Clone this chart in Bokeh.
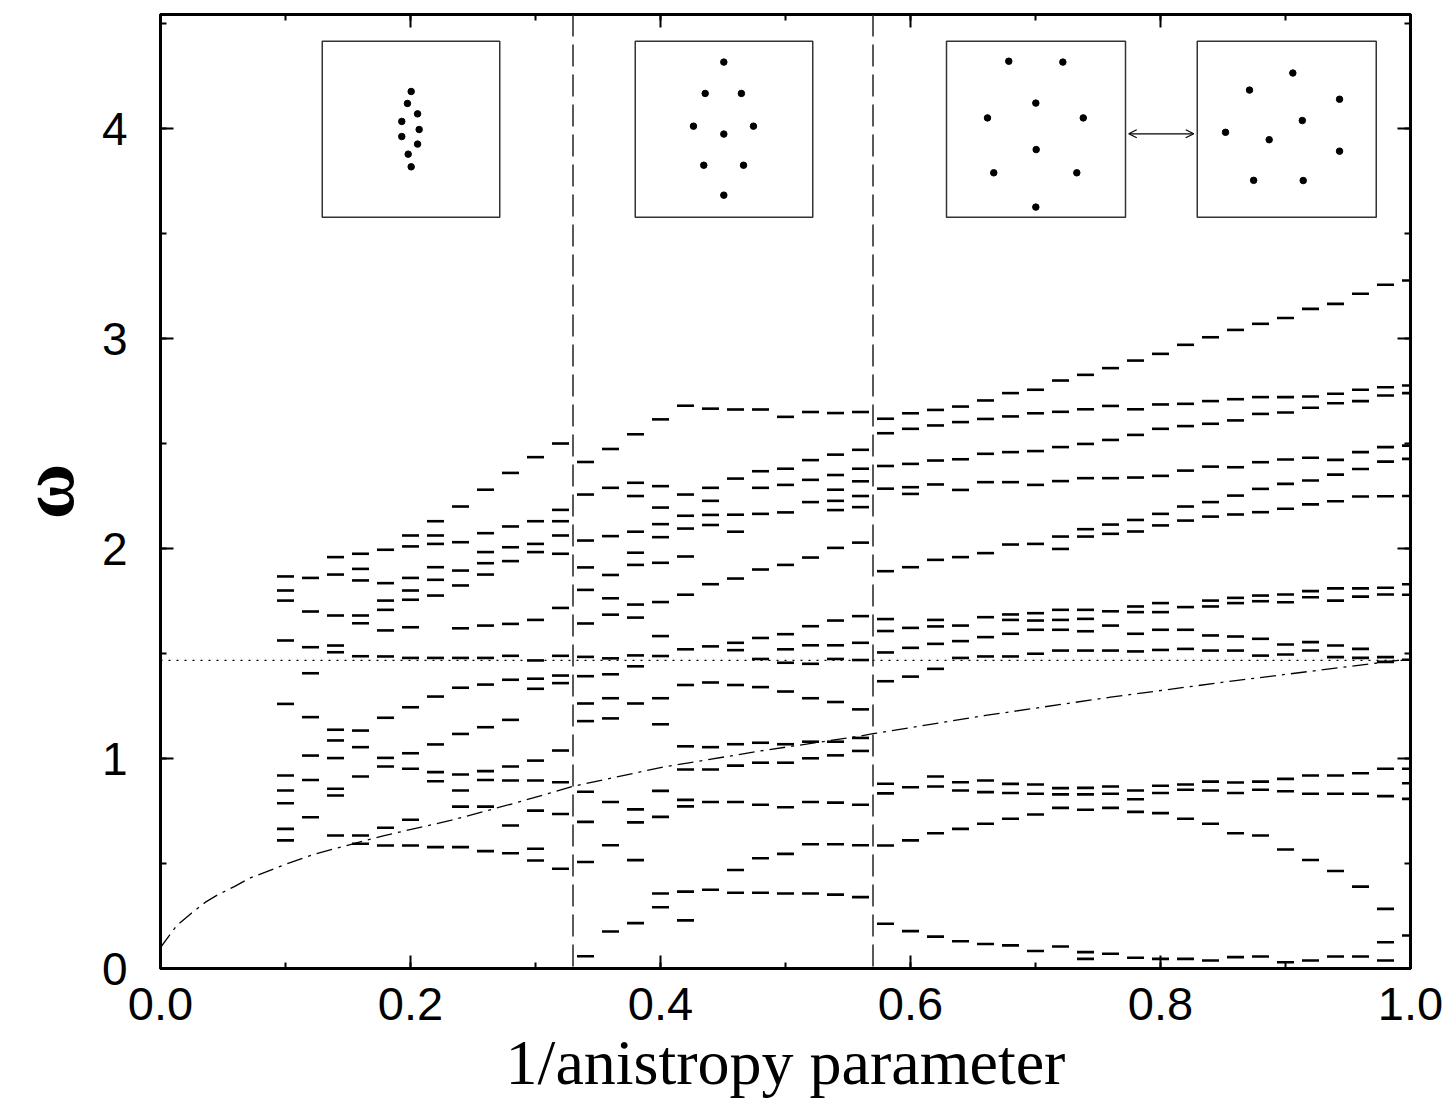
from bokeh.plotting import figure
from bokeh.models import (Range1d, LinearAxis, SingleIntervalTicker, Span, Arrow,
                          OpenHead, ColumnDataSource, NumeralTickFormatter, CustomJSTickFormatter)
from bokeh.embed import file_html
from bokeh.resources import INLINE

# ---------------- data: mode frequencies (omega) at each 1/anisotropy value ----------------
w_010 = [1.867, 1.80, 1.752, 1.562, 1.26, 0.919, 0.848, 0.787, 0.665, 0.61]
w_012 = [1.86, 1.70, 1.53, 1.406, 1.197, 1.014, 0.898, 0.72]
w_014 = [1.959, 1.876, 1.681, 1.538, 1.506, 1.137, 1.086, 1.002, 0.856, 0.824, 0.633]
w_016 = [1.975, 1.903, 1.848, 1.681, 1.644, 1.487, 1.133, 1.054, 0.914, 0.633, 0.594]
w_018 = [1.994, 1.835, 1.752, 1.708, 1.61, 1.486, 1.194, 1.003, 0.962, 0.67, 0.586]
w_020 = [2.062, 2.01, 1.86, 1.80, 1.756, 1.625, 1.479, 1.244, 1.025, 0.951, 0.708, 0.586]
w_022 = [2.13, 2.062, 2.022, 1.911, 1.851, 1.776, 1.479, 1.295, 1.067, 0.935, 0.892, 0.578]
w_024 = [2.20, 2.03, 1.895, 1.824, 1.62, 1.479, 1.337, 1.117, 0.924, 0.848, 0.771, 0.578]
w_026 = [2.28, 2.073, 1.983, 1.93, 1.876, 1.633, 1.479, 1.352, 1.149, 0.94, 0.898, 0.771, 0.559]
w_028 = [2.36, 2.105, 2.006, 1.94, 1.641, 1.489, 1.375, 1.184, 0.962, 0.895, 0.681, 0.549]
w_030 = [2.435, 2.13, 2.022, 1.983, 1.66, 1.467, 1.38, 1.332, 0.99, 0.895, 0.752, 0.57, 0.514]
w_032 = [2.50, 2.184, 2.13, 2.062, 1.975, 1.717, 1.489, 1.395, 1.359, 1.038, 0.887, 0.736, 0.475]
w_034 = [2.412, 2.257, 2.038, 1.91, 1.803, 1.643, 1.484, 1.392, 1.262, 1.178, 0.842, 0.698, 0.507, 0.058]
w_036 = [2.474, 2.289, 2.059, 1.874, 1.763, 1.685, 1.477, 1.401, 1.287, 1.191, 0.793, 0.587, 0.176]
w_038 = [2.544, 2.313, 2.25, 2.08, 1.98, 1.922, 1.733, 1.671, 1.491, 1.439, 1.262, 0.758, 0.696, 0.516, 0.216]
w_040 = [2.615, 2.297, 2.195, 2.116, 2.054, 1.932, 1.745, 1.583, 1.488, 1.287, 1.163, 0.846, 0.722, 0.357, 0.292]
w_042 = [2.68, 2.257, 2.156, 2.095, 1.962, 1.78, 1.52, 1.35, 1.058, 0.948, 0.803, 0.772, 0.366, 0.229]
w_044 = [2.666, 2.289, 2.227, 2.16, 2.112, 1.83, 1.534, 1.362, 1.054, 0.948, 0.793, 0.375]
w_046 = [2.662, 2.333, 2.161, 2.08, 1.857, 1.551, 1.516, 1.35, 1.068, 0.966, 0.793, 0.469, 0.361]
w_048 = [2.662, 2.368, 2.289, 2.165, 1.90, 1.574, 1.474, 1.34, 1.075, 0.98, 0.78, 0.525, 0.361]
w_050 = [2.627, 2.38, 2.303, 2.172, 1.922, 1.592, 1.52, 1.456, 1.319, 1.068, 0.98, 0.768, 0.546, 0.357]
w_052 = [2.65, 2.421, 2.327, 2.221, 1.957, 1.63, 1.539, 1.451, 1.287, 1.08, 1.001, 0.793, 0.592, 0.357]
w_054 = [2.645, 2.447, 2.35, 2.28, 2.227, 2.183, 2.003, 1.657, 1.539, 1.474, 1.269, 1.08, 1.015, 0.79, 0.592, 0.352]
w_056 = [2.65, 2.47, 2.38, 2.32, 2.25, 2.197, 2.028, 1.678, 1.551, 1.469, 1.234, 1.098, 1.036, 0.78, 0.587, 0.34]
w_058 = [2.618, 2.549, 2.393, 2.285, 1.892, 1.664, 1.607, 1.505, 1.368, 0.88, 0.834, 0.586, 0.213]
w_060 = [2.644, 2.57, 2.403, 2.292, 2.26, 1.911, 1.622, 1.527, 1.39, 0.863, 0.61, 0.178]
w_062 = [2.66, 2.586, 2.419, 2.305, 1.946, 1.66, 1.629, 1.546, 1.427, 0.914, 0.867, 0.644, 0.152]
w_064 = [2.676, 2.602, 2.425, 2.279, 1.959, 1.633, 1.559, 1.479, 0.887, 0.848, 0.665, 0.13]
w_066 = [2.705, 2.617, 2.451, 2.316, 1.978, 1.673, 1.578, 1.486, 0.895, 0.84, 0.689, 0.117]
w_068 = [2.74, 2.629, 2.459, 2.316, 2.019, 1.686, 1.66, 1.594, 1.486, 0.879, 0.836, 0.713, 0.11]
w_070 = [2.756, 2.644, 2.464, 2.303, 2.022, 1.692, 1.657, 1.613, 1.499, 0.876, 0.832, 0.733, 0.083]
w_072 = [2.80, 2.651, 2.483, 2.321, 2.057, 1.998, 1.708, 1.66, 1.613, 1.514, 0.859, 0.829, 0.765, 0.105]
w_074 = [2.827, 2.663, 2.498, 2.335, 2.092, 2.057, 1.708, 1.665, 1.606, 1.514, 0.86, 0.829, 0.756, 0.078, 0.046]
w_076 = [2.859, 2.679, 2.517, 2.335, 2.114, 2.07, 1.701, 1.633, 1.514, 0.867, 0.832, 0.765, 0.07]
w_078 = [2.895, 2.663, 2.541, 2.338, 2.136, 2.081, 1.724, 1.697, 1.594, 1.51, 0.848, 0.806, 0.746, 0.051]
w_080 = [2.927, 2.686, 2.57, 2.346, 2.165, 2.11, 1.74, 1.697, 1.613, 1.517, 0.87, 0.836, 0.74, 0.046]
w_082 = [2.97, 2.689, 2.583, 2.371, 2.2, 2.133, 1.721, 1.613, 1.522, 0.876, 0.851, 0.713, 0.046]
w_084 = [3.006, 2.702, 2.594, 2.39, 2.221, 2.152, 1.752, 1.724, 1.586, 1.514, 0.89, 0.848, 0.689, 0.038]
w_086 = [3.041, 2.711, 2.61, 2.387, 2.252, 2.162, 1.765, 1.74, 1.581, 1.514, 0.886, 0.836, 0.644, 0.054]
w_088 = [3.07, 2.721, 2.641, 2.411, 2.284, 2.173, 1.776, 1.749, 1.57, 1.49, 0.89, 0.851, 0.633, 0.057]
w_090 = [3.098, 2.721, 2.648, 2.424, 2.308, 2.189, 1.781, 1.744, 1.543, 1.495, 0.903, 0.844, 0.567, 0.03]
w_092 = [3.141, 2.724, 2.67, 2.432, 2.324, 2.21, 1.797, 1.768, 1.554, 1.514, 0.919, 0.832, 0.517, 0.038]
w_094 = [3.165, 2.737, 2.692, 2.422, 2.352, 2.225, 1.81, 1.752, 1.538, 1.483, 0.919, 0.832, 0.464, 0.057]
w_096 = [3.213, 2.756, 2.702, 2.459, 2.379, 2.248, 1.81, 1.771, 1.522, 1.479, 0.93, 0.832, 0.39, 0.057]
w_098 = [3.256, 2.768, 2.729, 2.483, 2.414, 2.249, 1.813, 1.781, 1.483, 1.46, 0.951, 0.821, 0.284, 0.125, 0.038]
w_100 = [3.276, 2.776, 2.74, 2.49, 2.427, 2.25, 1.83, 1.78, 1.47, 0.951, 0.882, 0.808, 0.157]

inv_anisotropy = [0.10, 0.12, 0.14, 0.16, 0.18, 0.20, 0.22, 0.24, 0.26, 0.28, 0.30, 0.32,
                  0.34, 0.36, 0.38, 0.40, 0.42, 0.44, 0.46, 0.48, 0.50, 0.52, 0.54, 0.56,
                  0.58, 0.60, 0.62, 0.64, 0.66, 0.68, 0.70, 0.72, 0.74, 0.76, 0.78, 0.80,
                  0.82, 0.84, 0.86, 0.88, 0.90, 0.92, 0.94, 0.96, 0.98, 1.00]
mode_sets = [w_010, w_012, w_014, w_016, w_018, w_020, w_022, w_024, w_026, w_028, w_030, w_032,
             w_034, w_036, w_038, w_040, w_042, w_044, w_046, w_048, w_050, w_052, w_054, w_056,
             w_058, w_060, w_062, w_064, w_066, w_068, w_070, w_072, w_074, w_076, w_078, w_080,
             w_082, w_084, w_086, w_088, w_090, w_092, w_094, w_096, w_098, w_100]

# dash-dot curve
curve_x = [0.0, 0.007, 0.013, 0.024, 0.036, 0.045, 0.059, 0.072, 0.084, 0.099, 0.124, 0.139,
           0.179, 0.232, 0.285, 0.331, 0.40, 0.48, 0.56, 0.57, 0.66, 0.76, 0.86, 0.99, 1.0]
curve_w = [0.10, 0.157, 0.205, 0.26, 0.316, 0.348, 0.39, 0.432, 0.459, 0.494, 0.546, 0.57,
           0.633, 0.705, 0.79, 0.869, 0.957, 1.036, 1.107, 1.118, 1.205, 1.292, 1.371, 1.467, 1.47]

# dotted horizontal level
level_x = [0.0, 1.0]
level_w = [1.467, 1.467]

# structural transitions (vertical dashed lines)
transitions = [0.33, 0.57]

# inset configurations (relative particle positions inside each inset box)
inset1_u = [0.501, 0.480, 0.537, 0.448, 0.546, 0.448, 0.537, 0.484, 0.501]
inset1_v = [0.714, 0.646, 0.587, 0.544, 0.498, 0.458, 0.415, 0.358, 0.286]
inset2_u = [0.499, 0.394, 0.598, 0.328, 0.666, 0.499, 0.386, 0.610, 0.499]
inset2_v = [0.881, 0.703, 0.703, 0.517, 0.517, 0.472, 0.295, 0.295, 0.125]
inset3_u = [0.348, 0.650, 0.499, 0.229, 0.764, 0.501, 0.264, 0.728, 0.499]
inset3_v = [0.886, 0.881, 0.648, 0.564, 0.564, 0.384, 0.252, 0.252, 0.057]
inset4_u = [0.534, 0.292, 0.795, 0.587, 0.158, 0.402, 0.795, 0.315, 0.592]
inset4_v = [0.819, 0.722, 0.670, 0.549, 0.482, 0.440, 0.375, 0.209, 0.208]

# ---------------- layout constants ----------------
inset_left = [0.1294, 0.3798, 0.6288, 0.8294]
inset_right = [0.2714, 0.5218, 0.7720, 0.9726]
inset_bottom = 3.578
inset_top = 4.416
arrow_x = (0.7746, 0.8266)
arrow_y = 3.975

# ---------------- figure ----------------
p = figure(frame_width=1250, frame_height=954,
           x_range=Range1d(0.0, 1.0), y_range=Range1d(0.0, 4.543),
           output_backend="svg", toolbar_location=None,
           min_border_left=160, min_border_right=38, min_border_top=14, min_border_bottom=10,
           background_fill_color="white", border_fill_color="white")
p.grid.visible = False
p.outline_line_color = "black"
p.outline_line_width = 3

xt = SingleIntervalTicker(interval=0.2, num_minor_ticks=2)
yt = SingleIntervalTicker(interval=1.0, num_minor_ticks=2)

def style_axis(ax, ticker):
    ax.ticker = ticker
    ax.axis_line_width = 3
    ax.axis_line_color = "black"
    ax.major_tick_in = 13
    ax.major_tick_out = 0
    ax.minor_tick_in = 6
    ax.minor_tick_out = 0
    ax.major_tick_line_width = 2
    ax.minor_tick_line_width = 2
    ax.major_tick_line_color = "black"
    ax.minor_tick_line_color = "black"

xa = p.xaxis[0]
style_axis(xa, xt)
xa.formatter = NumeralTickFormatter(format="0.0")
xa.major_label_text_font = "Liberation Sans"
xa.major_label_text_font_size = "47px"
xa.major_label_text_color = "black"
xa.major_label_standoff = 19
xa.axis_label = "1/anistropy parameter"
xa.axis_label_text_font = "Liberation Serif"
xa.axis_label_text_font_size = "64px"
xa.axis_label_text_font_style = "normal"
xa.axis_label_text_color = "black"
xa.axis_label_standoff = 4

ya = p.yaxis[0]
style_axis(ya, yt)
ya.formatter = NumeralTickFormatter(format="0")
ya.major_label_text_font = "Liberation Sans"
ya.major_label_text_font_size = "46px"
ya.major_label_text_color = "black"
ya.major_label_standoff = 33
ya.axis_label = "ω"
ya.axis_label_text_font = "Liberation Serif"
ya.axis_label_text_font_size = "76px"
ya.axis_label_text_font_style = "bold"
ya.axis_label_text_color = "black"
ya.axis_label_standoff = 10

# blank-labelled mirror axes on top and right (ticks only)
for loc, ticker in (("above", SingleIntervalTicker(interval=0.2, num_minor_ticks=2)),
                    ("right", SingleIntervalTicker(interval=1.0, num_minor_ticks=2))):
    ax = LinearAxis()
    style_axis(ax, ticker)
    ax.formatter = CustomJSTickFormatter(code="return ''")
    ax.major_label_standoff = 0
    p.add_layout(ax, loc)

# vertical dashed transition lines
for xv in transitions:
    p.add_layout(Span(location=xv, dimension="height", line_color="#222222",
                      line_width=1.5, line_dash="22 8"))

# dotted level line
p.line(level_x, level_w, line_color="black", line_width=1.2, line_dash="2 6")

# dash-dot curve
p.line(curve_x, curve_w, line_color="black", line_width=1.3, line_dash="16 6 3 6")

# mode dashes
xs, ys = [], []
for xv, ws in zip(inv_anisotropy, mode_sets):
    for w in ws:
        xs.append(xv)
        ys.append(w)
src = ColumnDataSource(dict(x=xs, y=ys))
p.scatter("x", "y", source=src, marker="dash", size=17, line_width=2.6, line_color="black")

# insets
p.quad(left=inset_left, right=inset_right, bottom=[inset_bottom] * 4, top=[inset_top] * 4,
       fill_color="white", line_color="#333333", line_width=1.5)
inset_u = [inset1_u, inset2_u, inset3_u, inset4_u]
inset_v = [inset1_v, inset2_v, inset3_v, inset4_v]
dx, dy = [], []
for i in range(4):
    wdt = inset_right[i] - inset_left[i]
    hgt = inset_top - inset_bottom
    for u, v in zip(inset_u[i], inset_v[i]):
        dx.append(inset_left[i] + u * wdt)
        dy.append(inset_bottom + v * hgt)
p.scatter(dx, dy, size=6.5, fill_color="black", line_color="black")

p.add_layout(Arrow(x_start=arrow_x[0], x_end=arrow_x[1], y_start=arrow_y, y_end=arrow_y,
                   start=OpenHead(size=8, line_width=1.2), end=OpenHead(size=8, line_width=1.2),
                   line_width=1.2, line_color="black"))

open("out.html", "w").write(file_html(p, INLINE))
